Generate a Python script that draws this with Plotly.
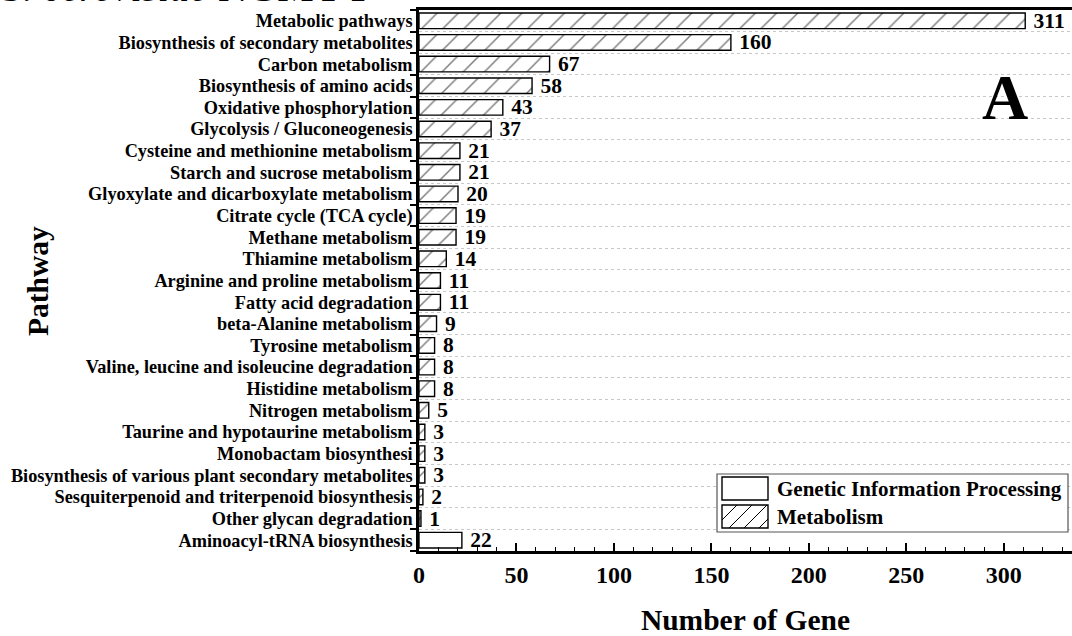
import plotly.graph_objects as go

categories = [
    "Metabolic pathways",
    "Biosynthesis of secondary metabolites",
    "Carbon metabolism",
    "Biosynthesis of amino acids",
    "Oxidative phosphorylation",
    "Glycolysis / Gluconeogenesis",
    "Cysteine and methionine metabolism",
    "Starch and sucrose metabolism",
    "Glyoxylate and dicarboxylate metabolism",
    "Citrate cycle (TCA cycle)",
    "Methane metabolism",
    "Thiamine metabolism",
    "Arginine and proline metabolism",
    "Fatty acid degradation",
    "beta-Alanine metabolism",
    "Tyrosine metabolism",
    "Valine, leucine and isoleucine degradation",
    "Histidine metabolism",
    "Nitrogen metabolism",
    "Taurine and hypotaurine metabolism",
    "Monobactam biosynthesi",
    "Biosynthesis of various plant secondary metabolites",
    "Sesquiterpenoid and triterpenoid biosynthesis",
    "Other glycan degradation",
    "Aminoacyl-tRNA biosynthesis",
]
metabolism_pathways = categories[:24]
metabolism_values = [311, 160, 67, 58, 43, 37, 21, 21, 20, 19, 19, 14, 11, 11, 9, 8, 8, 8, 5, 3, 3, 3, 2, 1]
genetic_pathways = ["Aminoacyl-tRNA biosynthesis"]
genetic_values = [22]
x_ticks = [0, 50, 100, 150, 200, 250, 300]
legend_labels = ["Genetic Information Processing", "Metabolism"]

FONT = "Liberation Serif, Times New Roman, serif"
W, H = 1072, 636
ML, MR, MT, MB = 419, 0, 10, 85
PW, PH = W - ML - MR, H - MT - MB


def px(xp):
    return (xp - ML) / PW


def py(yp):
    return (H - MB - yp) / PH


fig = go.Figure()
fig.add_trace(go.Bar(
    name=legend_labels[0],
    y=genetic_pathways, x=genetic_values, orientation="h",
    marker=dict(color="white", line=dict(color="black", width=1.4)),
    text=[f" {v}" for v in genetic_values], textposition="outside", cliponaxis=False,
    constraintext="none",
    textfont=dict(family=FONT, size=21.5, color="black", weight="bold"),
))
fig.add_trace(go.Bar(
    name=legend_labels[1],
    y=metabolism_pathways, x=metabolism_values, orientation="h",
    marker=dict(color="white", line=dict(color="black", width=1.4),
                pattern=dict(shape="/", fgcolor="black", bgcolor="white",
                             size=15, solidity=0.1)),
    text=[f" {v}" for v in metabolism_values], textposition="outside", cliponaxis=False,
    constraintext="none",
    textfont=dict(family=FONT, size=21.5, color="black", weight="bold"),
))

fig.update_layout(
    width=W, height=H,
    margin=dict(l=ML, r=MR, t=MT, b=MB),
    paper_bgcolor="white", plot_bgcolor="white",
    barmode="overlay", bargap=0.28,
    font=dict(family=FONT, color="black"),
    showlegend=False,
)

fig.update_xaxes(
    range=[0, 335], tickvals=x_ticks, showgrid=False, zeroline=False,
    showline=True, linecolor="black", linewidth=2.5, mirror=True,
    ticks="inside", ticklen=8, tickwidth=1.5, tickcolor="black",
    minor=dict(dtick=10, ticks="inside", ticklen=4, tickwidth=1.2, tickcolor="black"),
    tickfont=dict(family=FONT, size=24, color="black", weight="bold"),
    title=dict(text="Number of Gene", standoff=24,
               font=dict(family=FONT, size=29.5, color="black", weight="bold")),
)
fig.update_yaxes(
    type="category", categoryorder="array", categoryarray=categories[::-1],
    tickmode="linear", tick0=0, dtick=1,
    tickson="boundaries", showgrid=True, gridcolor="#c8c8c8", griddash="dot", gridwidth=1,
    showline=True, linecolor="black", linewidth=2.5, mirror=False,
    ticks="outside", ticklen=6, tickwidth=1.5, tickcolor="black",
    tickfont=dict(family=FONT, size=18.3, color="black", weight="bold"),
    zeroline=False,
)

fig.add_annotation(
    text="Pathway", xref="paper", yref="paper", x=px(38), y=py(281),
    xanchor="center", yanchor="middle", textangle=-90, showarrow=False,
    font=dict(family=FONT, size=29.5, color="black", weight="bold"),
)
fig.add_annotation(
    text="A", xref="paper", yref="paper", x=px(1005), y=py(98),
    xanchor="center", yanchor="middle", showarrow=False,
    font=dict(family=FONT, size=64, color="black", weight="bold"),
)
fig.add_annotation(
    text="<i>S. cerevisiae</i> NGMYY", xref="paper", yref="paper",
    x=px(0), y=py(12), xanchor="left", yanchor="bottom", showarrow=False,
    font=dict(family=FONT, size=41, color="black"),
)

# Custom legend (frame, swatches, hatch, labels)
fig.add_shape(type="rect", xref="paper", yref="paper",
              x0=px(717), x1=px(1068), y0=py(532), y1=py(474),
              line=dict(color="#555555", width=1.2), fillcolor="white", layer="above")
sw_x0, sw_x1 = 722, 768
rows = [(477, 500), (505, 528)]
for (t, b) in rows:
    fig.add_shape(type="rect", xref="paper", yref="paper",
                  x0=px(sw_x0), x1=px(sw_x1), y0=py(b), y1=py(t),
                  line=dict(color="black", width=1.4), fillcolor="white", layer="above")
t, b = rows[1]
hgt = b - t
for k in range(-hgt, sw_x1 - sw_x0, 15):
    xa, ya = sw_x0 + k, b
    xb, yb = sw_x0 + k + hgt, t
    if xa < sw_x0:
        ya = b - (sw_x0 - xa)
        xa = sw_x0
    if xb > sw_x1:
        yb = t + (xb - sw_x1)
        xb = sw_x1
    if xb - xa < 2:
        continue
    fig.add_shape(type="line", xref="paper", yref="paper",
                  x0=px(xa), y0=py(ya), x1=px(xb), y1=py(yb),
                  line=dict(color="black", width=1), layer="above")
for (t, b), lab in zip(rows, legend_labels):
    fig.add_annotation(
        text=lab, xref="paper", yref="paper", x=px(775), y=py((t + b) / 2),
        xanchor="left", yanchor="middle", showarrow=False,
        font=dict(family=FONT, size=21, color="black", weight="bold"),
    )

fig.write_html("out.html")
